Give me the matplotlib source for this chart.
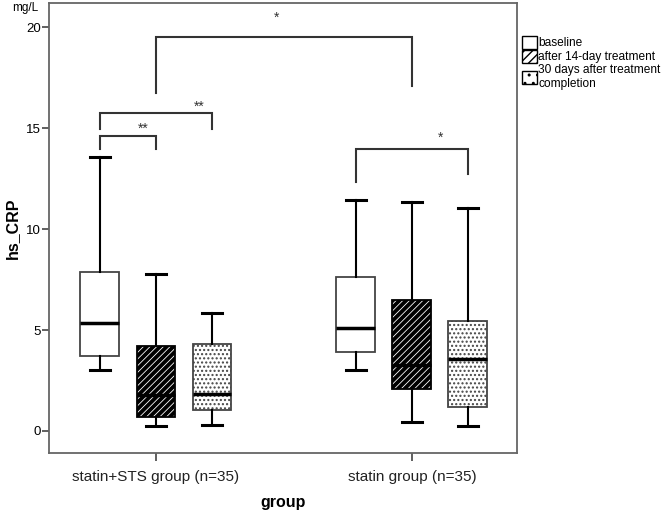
import matplotlib
matplotlib.use("Agg")
import matplotlib.pyplot as plt
from matplotlib.patches import Patch

plt.rcParams['font.family'] = ['Liberation Sans', 'DejaVu Sans']

# data (mg/L)
groups = ['statin+STS group (n=35)', 'statin group (n=35)']
series = ['baseline', 'after 14-day treatment', '30 days after treatment\ncompletion']
whislo = [[3.02, 0.25, 0.30], [3.02, 0.45, 0.25]]
q1 = [[3.71, 0.69, 1.04], [3.91, 2.08, 1.19]]
med = [[5.35, 1.78, 1.83], [5.10, 3.27, 3.56]]
q3 = [[7.87, 4.20, 4.31], [7.62, 6.49, 5.45]]
whishi = [[13.56, 7.77, 5.84], [11.43, 11.34, 11.04]]

# significance brackets: (group_a, series_a, group_b, series_b, bar height, left leg end, right leg end, label, label x, label y)
brackets = [
    (0, 1, 1, 1, 19.5, 16.73, 17.08, '*', 1.47, 20.45),
    (0, 0, 0, 2, 15.74, 14.95, 14.95, '**', 1.17, 16.05),
    (0, 0, 0, 1, 14.60, 13.96, 13.96, '**', 0.95, 14.95),
    (1, 0, 1, 2, 13.96, 12.33, 12.72, '*', 2.113, 14.55),
]

group_pos = [1, 2]
offset = 0.219
width = 0.152
hatches = [None, '/////', '....']
hatch_lw = [1.0, 2.8, 1.0]
hatch_col = ['black', 'black', '#555555']

fig = plt.figure(figsize=(6.66, 5.15), dpi=100)
ax = fig.add_axes([0.0736, 0.1204, 0.7024, 0.8736])

box_col = '#444444'
for gi, gp in enumerate(group_pos):
    for si in range(3):
        x = gp + (si - 1) * offset
        stats = [dict(med=med[gi][si], q1=q1[gi][si], q3=q3[gi][si],
                      whislo=whislo[gi][si], whishi=whishi[gi][si], fliers=[])]
        with plt.rc_context({'hatch.linewidth': hatch_lw[si], 'hatch.color': hatch_col[si]}):
            bp = ax.bxp(stats, positions=[x], widths=width, patch_artist=True,
                        showfliers=False, manage_ticks=False,
                        boxprops=dict(facecolor='white',
                                      edgecolor='black' if si == 1 else box_col,
                                      linewidth=1.3, hatch=hatches[si]),
                        medianprops=dict(color='black', linewidth=2.5),
                        whiskerprops=dict(color='black', linewidth=1.5),
                        capprops=dict(color='black', linewidth=2.2),
                        capwidths=width * 0.5)

for ga, sa, gb, sb, h, la, lb, lab, tx, ty in brackets:
    xa = group_pos[ga] + (sa - 1) * offset
    xb = group_pos[gb] + (sb - 1) * offset
    ax.plot([xa, xa, xb, xb], [la, h, h, lb], color='#333333', linewidth=1.5,
            solid_joinstyle='miter')
    ax.text(tx, ty, lab, ha='center', va='center', fontsize=10, color='#333333')

ax.set_xlim(0.582, 2.41)
ax.set_ylim(-1.09, 21.2)
ax.set_yticks([0, 5, 10, 15, 20])
ax.set_xticks(group_pos)
ax.set_xticklabels(groups, fontsize=11, color='#222222')
ax.tick_params(axis='y', labelsize=9.5, length=5, width=1.2, color='#444444', pad=1)
ax.tick_params(axis='x', length=6, width=1.2, color='#444444', pad=6)
for sp in ax.spines.values():
    sp.set_color('#666666')
    sp.set_linewidth(1.3)

ax.set_xlabel('group', fontsize=11.5, fontweight='bold', labelpad=8)
ax.set_ylabel('hs_CRP', fontsize=11.5, fontweight='bold', labelpad=4)
fig.text(0.038, 0.985, 'mg/L', fontsize=8.5, ha='center', va='center')

handles = []
for si in range(3):
    with plt.rc_context({'hatch.linewidth': 2.6 if si == 1 else 1.0,
                         'hatch.color': hatch_col[si]}):
        handles.append(Patch(facecolor='white', edgecolor='black',
                             hatch=['', '////', '..'][si], label=series[si]))
leg = fig.legend(handles=handles, loc='upper left', bbox_to_anchor=(0.777, 0.94),
                 frameon=False, fontsize=8.6, handlelength=1.2, handleheight=1.3,
                 handletextpad=0.15, labelspacing=0.05, borderaxespad=0)

fig.savefig('out.png', dpi=100)
